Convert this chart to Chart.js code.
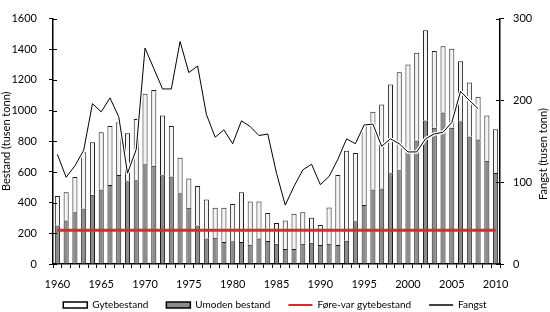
<!DOCTYPE html>
<html>
<head>
<meta charset="utf-8">
<script src="https://cdn.jsdelivr.net/npm/chart.js@4/dist/chart.umd.min.js"></script>
<style>
html,body{margin:0;padding:0;background:#fff;}
#wrap{width:550px;height:312px;position:relative;}
</style>
</head>
<body>
<div id="wrap"><canvas id="c"></canvas></div>
<script>
const years = [1960,1961,1962,1963,1964,1965,1966,1967,1968,1969,
  1970,1971,1972,1973,1974,1975,1976,1977,1978,1979,
  1980,1981,1982,1983,1984,1985,1986,1987,1988,1989,
  1990,1991,1992,1993,1994,1995,1996,1997,1998,1999,
  2000,2001,2002,2003,2004,2005,2006,2007,2008,2009,2010];

// Spawning stock (white, upper part of each bar), thousand tonnes
const gytebestand = [192,183,230,367,342,373,385,343,313,399,
  459,494,389,330,231,192,258,253,195,222,
  243,323,282,241,182,136,187,230,206,163,
  131,237,457,587,445,523,506,548,579,638,
  561,572,589,499,432,515,391,352,280,295,286];

// Immature stock (grey, lower part of each bar), thousand tonnes
const umodenBestand = [251,284,338,362,451,486,515,581,539,546,
  651,640,579,570,461,366,251,167,171,144,
  148,144,126,167,150,132,97,97,132,138,
  124,132,124,152,278,385,486,492,591,612,
  740,805,935,889,987,889,931,832,811,673,593];

// Catch, thousand tonnes (right axis)
const fangst = [134,106,120,139,196,186,203,180,111,140,
  264,239,214,214,272,234,242,183,155,164,
  147,175,168,157,159,111,72,95,115,122,
  97,107,128,153,147,170,171,144,153,147,
  137,137,153,159,161,173,211,200,190,null,null];

// Precautionary spawning stock level
const foreVarGytebestand = 220;

const leftTicks = [0,200,400,600,800,1000,1200,1400,1600];
const rightTicks = [0,100,200,300];

const FONT = 'Lato';
Chart.defaults.font.family = FONT;
Chart.defaults.color = '#000';

const innerTicks = {
  id: 'innerTicks',
  beforeDraw(chart) {
    // let the year labels extend below the axis box
    const xs = chart.scales.x;
    if (xs) xs._computeLabelArea = () => undefined;
  },
  afterDraw(chart) {
    const ctx = chart.ctx, a = chart.chartArea;
    ctx.save();
    ctx.strokeStyle = '#000';
    ctx.lineWidth = 1;
    const ys = chart.scales.y, y2 = chart.scales.y2;
    ys.ticks.forEach(t => {
      const p = Math.round(ys.getPixelForValue(t.value)) + 0.5;
      ctx.beginPath(); ctx.moveTo(a.left, p); ctx.lineTo(a.left + 4, p); ctx.stroke();
    });
    y2.ticks.forEach(t => {
      const p = Math.round(y2.getPixelForValue(t.value)) + 0.5;
      ctx.beginPath(); ctx.moveTo(a.right - 4, p); ctx.lineTo(a.right, p); ctx.stroke();
    });
    // right axis title, reading bottom to top
    ctx.translate(543, 154);
    ctx.rotate(-Math.PI / 2);
    ctx.textAlign = 'center';
    ctx.textBaseline = 'middle';
    ctx.fillStyle = '#000';
    ctx.font = '11px ' + FONT;
    ctx.fillText('Fangst (tusen tonn)', 0, 0);
    ctx.restore();
  }
};

const legendSpec = [
  {idx: 1, style: 'rect', fill: '#ffffff', stroke: '#000', lw: 1.5},
  {idx: 0, style: 'rect', fill: '#8c8c8c', stroke: '#000', lw: 1.5},
  {idx: 2, style: 'line', fill: '#e3262b', stroke: '#e3262b', lw: 2},
  {idx: 4, style: 'line', fill: '#000', stroke: '#000', lw: 1.5}
];

new Chart(document.getElementById('c'), {
  data: {
    labels: years,
    datasets: [
      {type: 'bar', label: 'Umoden bestand', data: umodenBestand, yAxisID: 'y', stack: 's',
       backgroundColor: '#8c8c8c', borderColor: '#1a1a1a', borderWidth: 1,
       barPercentage: 0.58, categoryPercentage: 1, order: 3},
      {type: 'bar', label: 'Gytebestand', data: gytebestand, yAxisID: 'y', stack: 's',
       backgroundColor: '#f3f3f3', borderColor: '#1a1a1a', borderWidth: 1,
       barPercentage: 0.58, categoryPercentage: 1, order: 3},
      {type: 'line', label: 'Føre-var gytebestand', data: years.map(() => foreVarGytebestand), yAxisID: 'y',
       borderColor: '#e3262b', borderWidth: 3, pointRadius: 0, fill: false, order: 1.5},
      {type: 'line', label: '', data: fangst, yAxisID: 'y2',
       borderColor: '#ffffff', borderWidth: 3.5, pointRadius: 0, fill: false, order: 2, spanGaps: false},
      {type: 'line', label: 'Fangst', data: fangst, yAxisID: 'y2',
       borderColor: '#000000', borderWidth: 1, pointRadius: 0, fill: false, order: 1, spanGaps: false}
    ]
  },
  options: {
    responsive: true,
    maintainAspectRatio: false,
    animation: false,
    devicePixelRatio: 1,
    layout: {padding: {top: 5, left: 0, right: 0, bottom: 0}},
    plugins: {
      tooltip: {enabled: false},
      legend: {
        position: 'bottom',
        maxHeight: 30,
        labels: {
          usePointStyle: true,
          pointStyleWidth: 24,
          boxHeight: 6,
          padding: 18,
          color: '#000',
          font: {family: FONT, size: 10},
          generateLabels(chart) {
            return legendSpec.map(s => ({
              text: chart.data.datasets[s.idx].label,
              datasetIndex: s.idx,
              fillStyle: s.fill,
              strokeStyle: s.stroke,
              lineWidth: s.lw,
              pointStyle: s.style,
              hidden: false,
              fontColor: '#000'
            }));
          }
        }
      }
    },
    scales: {
      x: {
        stacked: true,
        offset: true,
        grid: {display: true, drawOnChartArea: false, offset: true, tickLength: 4, color: '#000', lineWidth: 1},
        border: {display: true, color: '#000', width: 1.5},
        ticks: {
          autoSkip: false, maxRotation: 0, minRotation: 0, padding: 10,
          font: {family: FONT, size: 11}, color: '#000',
          callback: function(v, i) { const y = years[i]; return y % 5 === 0 ? String(y) : ''; }
        },
        afterFit: s => { s.height = 18; }
      },
      y: {
        position: 'left',
        stacked: true,
        min: 0, max: 1600,
        afterBuildTicks: s => { s.ticks = leftTicks.map(v => ({value: v})); },
        grid: {drawOnChartArea: false, tickLength: 4, color: '#000', lineWidth: 1},
        border: {display: true, color: '#000', width: 1.5},
        ticks: {padding: 12, font: {family: FONT, size: 11}, color: '#000', callback: v => String(v)},
        title: {display: true, text: 'Bestand (tusen tonn)', padding: 0, font: {family: FONT, size: 11}, color: '#000'},
        afterFit: s => { s.width = 53; }
      },
      y2: {
        position: 'right',
        min: 0, max: 300,
        afterBuildTicks: s => { s.ticks = rightTicks.map(v => ({value: v})); },
        grid: {drawOnChartArea: false, tickLength: 4, color: '#000', lineWidth: 1},
        border: {display: true, color: '#000', width: 1.5},
        ticks: {padding: 9, font: {family: FONT, size: 11}, color: '#000', callback: v => String(v)},
        afterFit: s => { s.width = 50; }
      }
    }
  },
  plugins: [innerTicks]
});
</script>
</body>
</html>
